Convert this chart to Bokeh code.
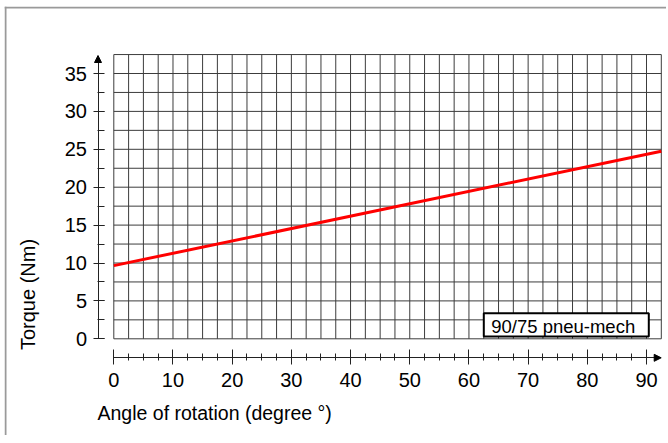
import math
from bokeh.plotting import figure
from bokeh.models import (LinearAxis, FixedTicker, Range1d, Arrow, NormalHead)
from bokeh.embed import file_html
from bokeh.resources import INLINE
from bokeh.core.properties import value

# ---------------- data ----------------
angle = [0, 92.5]            # degree
torque = [9.65, 24.75]       # Nm
series_name = "90/75 pneu-mech"
x_title = "Angle of rotation (degree °)"
y_title = "Torque (Nm)"
x_major = [0, 10, 20, 30, 40, 50, 60, 70, 80, 90]
x_minor = [2.5 * i for i in range(0, 37)]
y_major = [0, 5, 10, 15, 20, 25, 30, 35]
y_minor = [2.5 * i for i in range(0, 14)]
grid_x = [2.5 * i for i in range(0, 38)]   # 0 .. 92.5
grid_y = [2.5 * i for i in range(0, 16)]   # 0 .. 37.5

# ---------------- layout (canvas pixels) ----------------
W, H = 662, 429
X0PX, XS = 109.3, 5.919     # canvas x of angle 0, px per degree
Y0PX, YS = 332.3, 7.58      # canvas y of torque 0, px per Nm


def px(xc):
    return (xc - X0PX) / XS


def py(yc):
    return (Y0PX - yc) / YS


FONT = "Liberation Sans"

p = figure(width=W, height=H, output_backend="svg", toolbar_location=None,
           x_range=Range1d(px(0), px(W)), y_range=Range1d(py(H), py(0)),
           x_axis_type=None, y_axis_type=None, min_border=0,
           title=None)
p.outline_line_color = None
p.background_fill_color = "white"
p.border_fill_color = "white"
p.styles = {"margin-left": "4px", "margin-top": "6px"}

# outer frame (left and top edges)
p.segment(x0=[px(1), px(0)], y0=[py(0), py(1)], x1=[px(1), px(W)], y1=[py(H), py(1)],
          line_color="#9a9a9a", line_width=2)

# grid
gx_top = grid_y[-1]
gy_right = grid_x[-1]
p.segment(x0=grid_x, y0=[0] * len(grid_x), x1=grid_x, y1=[gx_top] * len(grid_x),
          line_color="#3c3c3c", line_width=1)
p.segment(x0=[0] * len(grid_y), y0=grid_y, x1=[gy_right] * len(grid_y), y1=grid_y,
          line_color="#3c3c3c", line_width=1)

# data line
p.line(angle, torque, line_color="#ff0000", line_width=3)

# legend-like box
p.quad(left=[px(479.3)], right=[px(644.3)], top=[py(306.7)], bottom=[py(330)],
       fill_color="white", line_color="black", line_width=2)
p.text(x=[px(486.7)], y=[py(319.7)], text=[series_name], text_font=value(FONT),
       text_font_size="18.5px", text_color="black", text_align="left",
       text_baseline="alphabetic")

# axes
yax_x = px(93.5)
xax_y = py(351.3)

yax = LinearAxis(fixed_location=yax_x, bounds=(0, 37.0),
                 ticker=FixedTicker(ticks=y_major, minor_ticks=y_minor))
yax.axis_line_color = "#222222"
yax.major_tick_line_color = "#222222"
yax.minor_tick_line_color = "#222222"
yax.major_tick_in = 6
yax.major_tick_out = 5
yax.minor_tick_in = 6
yax.minor_tick_out = 1
yax.major_label_text_font = FONT
yax.major_label_text_font_size = "20px"
yax.major_label_text_color = "black"
yax.major_label_standoff = 6
p.add_layout(yax, "left")

xax = LinearAxis(fixed_location=xax_y, bounds=(0, 92.0),
                 ticker=FixedTicker(ticks=x_major, minor_ticks=x_minor))
xax.axis_line_color = "#222222"
xax.major_tick_line_color = "#222222"
xax.minor_tick_line_color = "#222222"
xax.major_tick_in = 8
xax.major_tick_out = 7
xax.minor_tick_in = 4
xax.minor_tick_out = 3
xax.major_label_text_font = FONT
xax.major_label_text_font_size = "20px"
xax.major_label_text_color = "black"
xax.major_label_standoff = 8
p.add_layout(xax, "below")

# arrow heads
p.add_layout(Arrow(end=NormalHead(size=7, fill_color="black", line_color="black"),
                   x_start=yax_x, y_start=36.5, x_end=yax_x, y_end=py(49),
                   line_color="black", line_width=1))
p.add_layout(Arrow(end=NormalHead(size=7, fill_color="black", line_color="black"),
                   x_start=91.5, y_start=xax_y, x_end=px(656.7), y_end=xax_y,
                   line_color="black", line_width=1))

# axis titles
p.text(x=[px(93)], y=[py(406)], text=[x_title], text_font=value(FONT),
       text_font_size="19.5px", text_color="black", text_align="left",
       text_baseline="alphabetic")
p.text(x=[px(23.7)], y=[py(288)], text=[y_title], text_font=value(FONT),
       text_font_size="20px", text_color="black", text_align="center",
       text_baseline="alphabetic", angle=math.pi / 2)

open("out.html", "w").write(file_html(p, INLINE))
